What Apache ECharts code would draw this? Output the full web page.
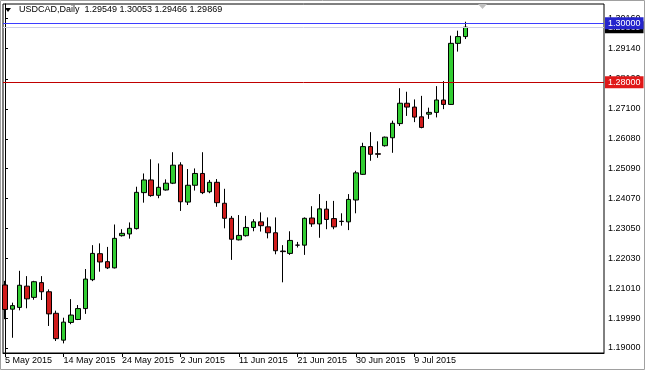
<!DOCTYPE html>
<html>
<head>
<meta charset="utf-8">
<script src="https://cdn.jsdelivr.net/npm/echarts@6/dist/echarts.min.js"></script>
<style>html,body{margin:0;padding:0;background:#fff}#c{width:645px;height:370px}</style>
</head>
<body>
<div id="c"></div>
<script>
// ---- data ----
var symbolName = 'USDCAD,Daily';
var tickIndex = [0, 8, 16, 24, 32, 40, 48, 56];
var tickLabels = ['5 May 2015','14 May 2015','24 May 2015','2 Jun 2015','11 Jun 2015','21 Jun 2015','30 Jun 2015','9 Jul 2015'];
var priceTicks = [1.19000, 1.19990, 1.21010, 1.22030, 1.23050, 1.24070, 1.25090, 1.26080, 1.27100, 1.28120, 1.29140, 1.30160];
var openV  = [1.2113,1.2031,1.2037,1.2109,1.2071,1.2121,1.2090,1.2017,1.1926,1.1986,1.1996,1.2033,1.2131,1.2219,1.2192,1.2171,
              1.2280,1.2286,1.2304,1.2426,1.2469,1.2417,1.2435,1.2458,1.2520,1.2394,1.2451,1.2491,1.2429,1.2461,1.2390,1.2339,
              1.2266,1.2280,1.2308,1.2327,1.2310,1.2290,1.2228,1.2220,1.2248,1.2248,1.2340,1.2320,1.2370,1.2338,1.2329,1.2327,
              1.2401,1.2488,1.2582,1.2558,1.2585,1.2612,1.2660,1.2729,1.2716,1.2683,1.2692,1.2698,1.2740,1.2725,1.2932,1.29549];
var closeV = [1.2030,1.2043,1.2112,1.2066,1.2124,1.2090,1.2015,1.1931,1.1987,1.2011,1.2033,1.2133,1.2220,1.2191,1.2171,1.2271,
              1.2288,1.2305,1.2427,1.2469,1.2416,1.2444,1.2458,1.2519,1.2395,1.2451,1.2491,1.2426,1.2461,1.2392,1.2339,1.2268,
              1.2281,1.2308,1.2327,1.2314,1.2290,1.2229,1.2226,1.2264,1.2248,1.2339,1.2320,1.2371,1.2335,1.2310,1.2328,1.2403,
              1.2493,1.2582,1.2556,1.2556,1.2614,1.2661,1.2729,1.2716,1.2682,1.2647,1.2698,1.2740,1.2725,1.2932,1.2955,1.29869];
var lowV   = [1.1997,1.1934,1.2027,1.2034,1.2063,1.2062,1.1974,1.1923,1.1915,1.1980,1.1994,1.2015,1.2126,1.2158,1.2167,1.2169,
              1.2277,1.2270,1.2301,1.2392,1.2412,1.2407,1.2433,1.2455,1.2364,1.2384,1.2433,1.2421,1.2424,1.2378,1.2305,1.2198,
              1.2264,1.2277,1.2295,1.2294,1.2271,1.2217,1.2122,1.2215,1.2240,1.2215,1.2310,1.2273,1.2302,1.2302,1.2314,1.2299,
              1.2356,1.2486,1.2534,1.2544,1.2582,1.2561,1.2652,1.2686,1.2665,1.2644,1.2676,1.2681,1.2709,1.2723,1.2904,1.29466];
var highV  = [1.2127,1.2053,1.2161,1.2143,1.2127,1.2143,1.2098,1.2026,1.2002,1.2065,1.2045,1.2167,1.2248,1.2254,1.2242,1.2318,
              1.2302,1.2325,1.2446,1.2491,1.2539,1.2525,1.2471,1.2563,1.2529,1.2506,1.2508,1.2563,1.2469,1.2472,1.2439,1.2347,
              1.2350,1.2347,1.2336,1.2359,1.2342,1.2342,1.2248,1.2295,1.2259,1.2342,1.2380,1.2421,1.2398,1.2398,1.2356,1.2421,
              1.2500,1.2595,1.2631,1.2600,1.2616,1.2670,1.2780,1.2768,1.2742,1.2754,1.2714,1.2787,1.2804,1.2958,1.2975,1.30053];
var levelBlue = 1.30000;
var levelRed  = 1.28000;

// ---- build ----
var candles = openV.map(function (o, i) { return [i, o, closeV[i], lowV[i], highV[i]]; });
var last = candles.length - 1;
var bid = closeV[last];
var header = symbolName + '  ' + openV[last].toFixed(5) + ' ' + highV[last].toFixed(5) + ' ' +
             lowV[last].toFixed(5) + ' ' + closeV[last].toFixed(5);
var FONT = 'Liberation Sans, Arial, sans-serif';

var chart = echarts.init(document.getElementById('c'), null, {renderer: 'canvas'});
chart.setOption({
  animation: false,
  backgroundColor: '#ffffff',
  grid: {left: 3, right: 41, top: 4, bottom: 17, show: true, borderColor: '#000', borderWidth: 1, backgroundColor: '#fff'},
  xAxis: {
    type: 'value', min: -0.274, max: 81.94,
    splitLine: {show: false},
    axisLine: {show: true, onZero: false, lineStyle: {color: '#000', width: 1}},
    axisTick: {show: true, customValues: tickIndex, length: 4, lineStyle: {color: '#000'}},
    axisLabel: {
      customValues: tickIndex, align: 'left', margin: 3, color: '#000', fontSize: 9, fontFamily: FONT,
      formatter: function (v) { var k = tickIndex.indexOf(Math.round(v)); return k >= 0 ? tickLabels[k] : ''; }
    }
  },
  yAxis: {
    type: 'value', position: 'right', min: 1.18824, max: 1.30654, scale: true,
    splitLine: {show: false},
    axisLine: {show: true, lineStyle: {color: '#000', width: 1}},
    axisTick: {show: true, customValues: priceTicks, length: 3, lineStyle: {color: '#000'}},
    axisLabel: {customValues: priceTicks, margin: 4, color: '#000', fontSize: 9, fontFamily: FONT,
      formatter: function (v) { return v.toFixed(5); }}
  },
  series: [{
    type: 'candlestick',
    data: candles,
    encode: {x: 0, y: [1, 2, 3, 4]},
    barWidth: 5,
    clip: false,
    itemStyle: {color: '#32cd32', color0: '#d01c1c', borderColor: '#000', borderColor0: '#000', borderWidth: 1},
    markLine: {
      silent: true, symbol: ['none', 'none'], animation: false, precision: 5,
      data: [
        {yAxis: bid, lineStyle: {color: '#cfcfe4', width: 1, type: 'solid', opacity: 1},
          label: {show: true, position: 'end', distance: 1, formatter: bid.toFixed(5), color: '#fff', backgroundColor: '#000',
            fontSize: 9, fontFamily: FONT, padding: [2, 3, 1, 3]}},
        {yAxis: levelRed, lineStyle: {color: '#c00000', width: 1, type: 'solid', opacity: 1},
          label: {show: true, position: 'end', distance: 1, formatter: levelRed.toFixed(5), color: '#fff', backgroundColor: '#e01818',
            fontSize: 9, fontFamily: FONT, padding: [2, 3, 1, 3]}},
        {yAxis: levelBlue, lineStyle: {color: '#3c3cff', width: 1.2, type: 'solid', opacity: 1},
          label: {show: true, position: 'end', distance: 1, formatter: levelBlue.toFixed(5), color: '#fff', backgroundColor: '#2424cc',
            fontSize: 9, fontFamily: FONT, padding: [2, 3, 1, 3]}}
      ]
    }
  }],
  graphic: [
    {type: 'rect', shape: {x: 0.5, y: 0.5, width: 644, height: 369}, style: {fill: 'none', stroke: '#a0a0a0', lineWidth: 1}, z: 100},
    {type: 'polygon', shape: {points: [[5, 8], [11, 8], [8, 12]]}, style: {fill: '#000'}, z: 100},
    {type: 'text', left: 19, top: 5, style: {text: header, fill: '#000', font: '9px ' + FONT}, z: 100},
    {type: 'polygon', shape: {points: [[478, 4], [487, 4], [482.5, 9]]}, style: {fill: '#c0c0c0'}, z: 100}
  ]
});
</script>
</body>
</html>
